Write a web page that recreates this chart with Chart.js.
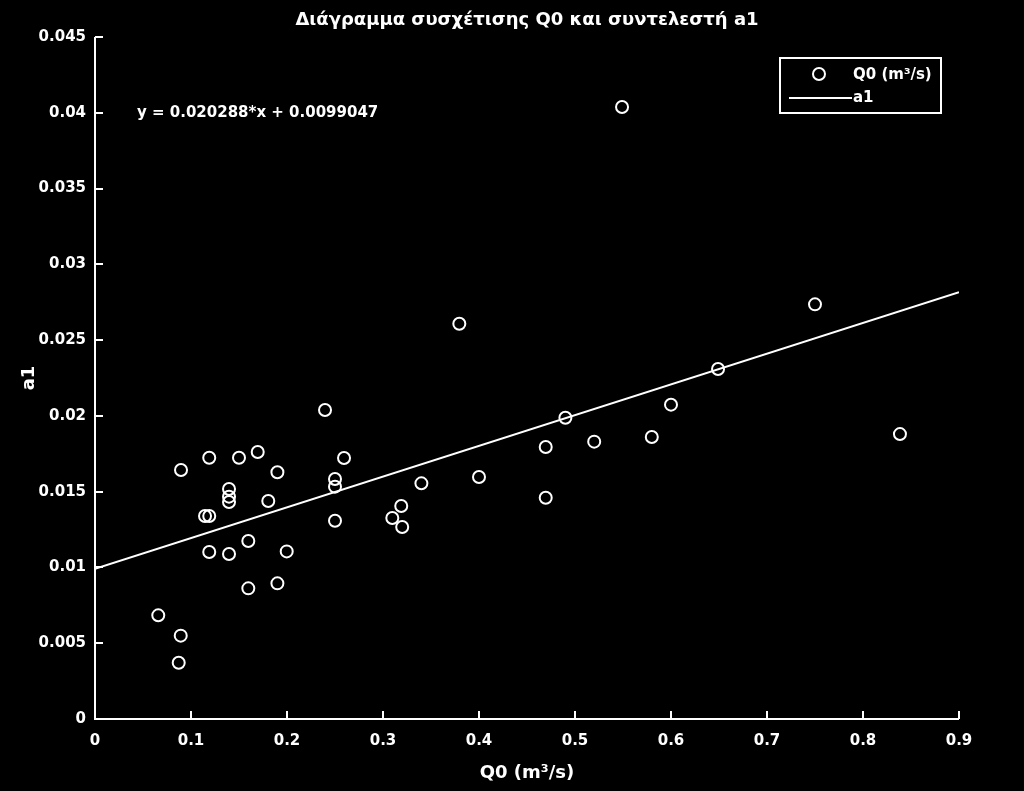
<!DOCTYPE html>
<html>
<head>
<meta charset="utf-8">
<script src="https://cdn.jsdelivr.net/npm/chart.js@4.4.1/dist/chart.umd.min.js"></script>
<style>
html,body{margin:0;padding:0;background:#000;}
#wrap{width:1024px;height:791px;}
</style>
</head>
<body>
<div id="wrap"><canvas id="c" width="1024" height="791"></canvas></div>
<script>
const q0Values = [0.0659,0.0893,0.0872,0.0896,0.119,0.1146,0.119,0.119,0.1396,0.1396,0.1396,0.1396,0.15,0.1695,0.1597,0.1597,0.1805,0.19,0.19,0.1997,0.2396,0.25,0.25,0.25,0.2594,0.3097,0.319,0.32,0.34,0.3795,0.40,0.4695,0.4695,0.49,0.52,0.549,0.58,0.60,0.649,0.75,0.8385];
const a1Values = [0.00684,0.00550,0.00371,0.01643,0.01724,0.01339,0.01339,0.01102,0.01518,0.01467,0.01432,0.01089,0.01724,0.01762,0.01174,0.00862,0.01438,0.01628,0.00895,0.01106,0.02039,0.01584,0.01533,0.01308,0.01722,0.01326,0.01405,0.01267,0.01555,0.02608,0.01597,0.01795,0.01460,0.01988,0.01830,0.04038,0.01861,0.02074,0.02309,0.02736,0.01880];
const fitX = [0, 0.9];
const fitY = [0.0099047, 0.0281639];
const xTickValues = [0,0.1,0.2,0.3,0.4,0.5,0.6,0.7,0.8,0.9];
const xTickLabels = ['0','0.1','0.2','0.3','0.4','0.5','0.6','0.7','0.8','0.9'];
const yTickValues = [0,0.005,0.01,0.015,0.02,0.025,0.03,0.035,0.04,0.045];
const yTickLabels = ['0','0.005','0.01','0.015','0.02','0.025','0.03','0.035','0.04','0.045'];
const titleText = 'Διάγραμμα συσχέτισης Q0 και συντελεστή a1';
const xTitle = 'Q0 (m³/s)';
const yTitle = 'a1';
const seriesNames = ['Q0 (m³/s)', 'a1'];
const equationText = 'y = 0.020288*x + 0.0099047';

const FONT = '"DejaVu Sans", "Liberation Sans", Arial, sans-serif';

const pointsData = q0Values.map((x, i) => ({x: x, y: a1Values[i]}));
const lineData = fitX.map((x, i) => ({x: x, y: fitY[i]}));

const bgPlugin = {
  id: 'bg',
  beforeDraw(chart) {
    const ctx = chart.ctx;
    ctx.save();
    ctx.fillStyle = '#000';
    ctx.fillRect(0, 0, chart.width, chart.height);
    ctx.restore();
  }
};

const axesPlugin = {
  id: 'axesInward',
  afterDatasetsDraw(chart) {
    const ctx = chart.ctx;
    const xs = chart.scales.x, ys = chart.scales.y;
    const a = chart.chartArea;
    ctx.save();
    ctx.strokeStyle = '#fff';
    ctx.lineWidth = 2;
    ctx.beginPath();
    ctx.moveTo(a.left, a.top);
    ctx.lineTo(a.left, a.bottom);
    ctx.lineTo(a.right, a.bottom);
    ctx.stroke();
    const len = 8;
    ctx.beginPath();
    xTickValues.forEach(v => {
      const px = Math.round(xs.getPixelForValue(v));
      ctx.moveTo(px, a.bottom);
      ctx.lineTo(px, a.bottom - len);
    });
    yTickValues.forEach(v => {
      const py = Math.round(ys.getPixelForValue(v));
      ctx.moveTo(a.left, py);
      ctx.lineTo(a.left + len, py);
    });
    ctx.stroke();

    // title, centred over the plot area
    ctx.fillStyle = '#fff';
    ctx.font = 'bold 18px ' + FONT;
    ctx.textBaseline = 'middle';
    ctx.textAlign = 'center';
    ctx.fillText(titleText, (a.left + a.right) / 2, 20);

    // equation text
    ctx.font = 'bold 15px ' + FONT;
    ctx.textAlign = 'left';
    ctx.fillText(equationText, 137, 113);

    // legend
    const lx = 780, ly = 58, lw = 161, lh = 55;
    ctx.fillStyle = '#000';
    ctx.fillRect(lx, ly, lw, lh);
    ctx.strokeStyle = '#fff';
    ctx.lineWidth = 2;
    ctx.strokeRect(lx, ly, lw, lh);
    const ds0 = chart.data.datasets[0];
    ctx.beginPath();
    ctx.arc(819, 74, ds0.pointRadius, 0, Math.PI * 2);
    ctx.lineWidth = ds0.borderWidth;
    ctx.stroke();
    ctx.beginPath();
    ctx.moveTo(789, 98);
    ctx.lineTo(852, 98);
    ctx.lineWidth = 2;
    ctx.stroke();
    ctx.fillStyle = '#fff';
    ctx.font = 'bold 15px ' + FONT;
    ctx.fillText(seriesNames[0], 853, 75);
    ctx.fillText(seriesNames[1], 853, 98);
    ctx.restore();
  }
};

new Chart(document.getElementById('c'), {
  type: 'scatter',
  data: {
    datasets: [
      {
        label: seriesNames[0],
        data: pointsData,
        showLine: false,
        pointStyle: 'circle',
        pointRadius: 6,
        pointHoverRadius: 6,
        borderColor: '#fff',
        backgroundColor: 'rgba(0,0,0,0)',
        borderWidth: 2
      },
      {
        label: seriesNames[1],
        data: lineData,
        showLine: true,
        pointRadius: 0,
        borderColor: '#fff',
        borderWidth: 2,
        fill: false
      }
    ]
  },
  options: {
    responsive: false,
    animation: false,
    events: [],
    layout: { padding: { left: 0, right: 65, top: 37, bottom: 0 } },
    plugins: {
      legend: { display: false },
      tooltip: { enabled: false },
      title: { display: false }
    },
    scales: {
      x: {
        type: 'linear',
        min: 0, max: 0.9,
        grid: { display: false, drawTicks: false },
        border: { display: false },
        afterBuildTicks(scale) { scale.ticks = xTickValues.map(v => ({value: v})); },
        afterFit(scale) { scale.height = 72; },
        ticks: {
          color: '#fff',
          padding: 13,
          maxRotation: 0,
          font: { family: FONT, size: 15, weight: 'bold' },
          callback: (v, i) => xTickLabels[i]
        },
        title: {
          display: true,
          text: xTitle,
          color: '#fff',
          font: { family: FONT, size: 18, weight: 'bold' },
          padding: { top: 0, bottom: 7 }
        }
      },
      y: {
        type: 'linear',
        min: 0, max: 0.045,
        grid: { display: false, drawTicks: false },
        border: { display: false },
        afterBuildTicks(scale) { scale.ticks = yTickValues.map(v => ({value: v})); },
        afterFit(scale) { scale.width = 95; },
        ticks: {
          color: '#fff',
          padding: 9,
          font: { family: FONT, size: 15, weight: 'bold' },
          callback: (v, i) => yTickLabels[i]
        },
        title: {
          display: true,
          text: yTitle,
          color: '#fff',
          font: { family: FONT, size: 18, weight: 'bold' },
          padding: { top: 19, bottom: 0 }
        }
      }
    }
  },
  plugins: [bgPlugin, axesPlugin]
});
</script>
</body>
</html>
